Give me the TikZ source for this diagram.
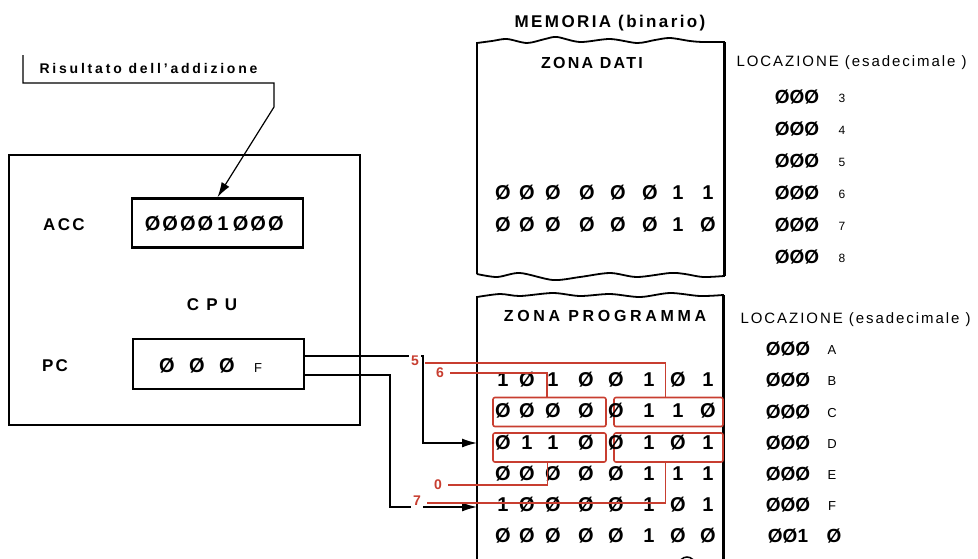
\documentclass[tikz,border=0pt]{standalone}
\usepackage{fontspec}
\setmainfont{Liberation Sans}
\usetikzlibrary{arrows.meta}
\definecolor{redline}{RGB}{200,62,48}

\begin{document}
\begin{tikzpicture}[x=1pt,y=-1pt,>={Latex[length=15pt,width=9pt]},
  box/.style={draw,line width=2.4pt},
  reg/.style={draw,line width=2.6pt,minimum width=171pt,minimum height=49pt},
  lbl/.style={font=\fontsize{17}{19}\selectfont\bfseries\addfontfeatures{LetterSpace=14}},
  zone/.style={font=\fontsize{16}{18}\selectfont\bfseries\addfontfeatures{LetterSpace=14}},
  loc/.style={font=\fontsize{15}{17}\selectfont\addfontfeatures{LetterSpace=13},anchor=west},
  bit/.style={font=\fontsize{20}{22}\selectfont\bfseries,inner sep=0pt},
  hx/.style={font=\fontsize{13}{15}\selectfont,inner sep=0pt},
  mem/.style={draw,line width=1.8pt},
  wire/.style={draw,line width=1.4pt},
  rl/.style={draw=redline,line width=1.2pt},
  rbox/.style={draw=redline,line width=1.6pt,rounded corners=2pt,minimum height=29pt},
  rn/.style={text=redline,fill=white,inner sep=2pt,font=\fontsize{14}{16}\selectfont\bfseries}]
  \useasboundingbox (0,0) rectangle (978,558);

  % CPU
  \node[box,minimum width=351pt,minimum height=270pt] (cpu) at (184.5,290) {};
  \node[lbl] (cpul) at (212,305) {C P U};
  \node[lbl] (accl) at (64,225) {ACC};
  \node[lbl] (pcl) at (55,366) {PC};
  \node[reg] (acc) at (217.5,223) {};
  \node[reg,line width=2.2pt,minimum height=50pt] (pc) at (218.5,364) {};
  \foreach \b [count=\c] in {Ø,Ø,Ø,Ø,1,Ø,Ø,Ø}
    \node[bit] (a\c) at (135+17.6*\c,224) {\b};
  \foreach \b [count=\c] in {Ø,Ø,Ø}
    \node[bit] (c\c) at (137+30*\c,366) {\b};
  \node[hx] (c4) at (258,368) {F};

  % result label
  \node[font=\fontsize{14}{16}\selectfont\bfseries\addfontfeatures{LetterSpace=20},anchor=west] (res) at (36,68) {Risultato dell'addizione};
  \coordinate (brk) at (23,55);
  \draw[wire,line width=1.2pt,->] (brk) |- (274,83) -- (274,107) -- (acc.north);

  % memory
  \node[lbl] (meml) at (610,23) {MEMORIA (binario)};
  \draw[mem] (477,274) -- (477,43) -- plot[smooth] coordinates {(477,43) (492,41) (507,39) (527,43) (545,39) (557,37) (580,42) (610,39) (637,43) (655,40) (670,38) (690,41) (703,42) (724,42)}
    -- (724,276) -- plot[smooth] coordinates {(724,276) (703,277) (685,274) (670,273) (637,277) (610,273) (580,277) (553,280) (520,273) (497,277) (477,274)};
  \draw[line width=3pt] (724,42) -- (724,276);
  \draw[mem] (477,565) -- (477,297) -- plot[smooth] coordinates {(477,297) (500,294) (520,296) (553,293) (580,296) (610,294) (640,297) (670,293) (700,296) (723,295)} -- (723,565);
  \draw[line width=3pt] (723,295) -- (723,565);
  \node[zone] (zd) at (592,63) {ZONA DATI};
  \node[zone,font=\fontsize{16}{18}\selectfont\bfseries\addfontfeatures{LetterSpace=23}] (zp) at (605,316) {ZONA PROGRAMMA};
  \node[loc] (loc1) at (733,63) {LOCAZIONE (esadecimale )};
  \node[loc] (loc2) at (737,320) {LOCAZIONE (esadecimale )};

  % data and program bytes
  \foreach \y/\bits [count=\r] in {193/{Ø,Ø,Ø,Ø,Ø,Ø,1,1},225/{Ø,Ø,Ø,Ø,Ø,Ø,1,Ø}}
    \foreach \b [count=\c] in \bits {
      \pgfmathsetmacro\xc{{503,527,553,587,618,650,678,708}[\c-1]}
      \node[bit] (d\r-\c) at (\xc,\y) {\b};
    }
  \node[rbox,minimum width=113pt] (lb2) at (549.5,412) {};
  \node[rbox,minimum width=113pt] (lb3) at (549.5,447.5) {};
  \node[rbox,minimum width=109pt] (rb2) at (668.5,412) {};
  \node[rbox,minimum width=109pt] (rb3) at (668.5,447.5) {};
  \foreach \y/\bits [count=\r] in {380/{1,Ø,1,Ø,Ø,1,Ø,1},411/{Ø,Ø,Ø,Ø,Ø,1,1,Ø},443/{Ø,1,1,Ø,Ø,1,Ø,1},
      474/{Ø,Ø,Ø,Ø,Ø,1,1,1},505/{1,Ø,Ø,Ø,Ø,1,Ø,1},536/{Ø,Ø,Ø,Ø,Ø,1,Ø,Ø}}
    \foreach \b [count=\c] in \bits {
      \pgfmathsetmacro\xc{{503,527,553,586,616,649,678,708}[\c-1]}
      \node[bit] (p\r-\c) at (\xc,\y) {\b};
    }
  \node[draw,circle,minimum size=16pt,line width=1.5pt] (mark) at (687,565) {};

  % locations
  \foreach \h [count=\i] in {3,4,5,6,7,8} {
    \node[bit,font=\fontsize{19}{21}\selectfont\bfseries] (t\i) at (797,65+32*\i) {ØØØ};
    \node[hx,font=\fontsize{12}{14}\selectfont] (th\i) at (842,66+32*\i) {\h};
  }
  \foreach \h [count=\i] in {A,B,C,D,E,F} {
    \node[bit,font=\fontsize{19}{21}\selectfont\bfseries] (b\i) at (788,318+31.2*\i) {ØØØ};
    \node[hx] (bh\i) at (832,319+31.2*\i) {\h};
  }
  \node[bit,font=\fontsize{19}{21}\selectfont\bfseries] (b7) at (788,536) {ØØ1};
  \node[bit,font=\fontsize{19}{21}\selectfont\bfseries] (bh7) at (834,536) {Ø};

  % PC to program zone
  \coordinate (m3) at (477,443);
  \coordinate (m7) at (477,507);
  \draw[wire,->] ([yshift=8pt]pc.east) -- ++(118,0) |- (m3);
  \draw[wire,->] ([yshift=-11pt]pc.east) -- ++(85,0) |- (m7);

  % address bytes
  \node[rn] (l5) at (415,361) {5};
  \node[rn] (l6) at (440,373) {6};
  \node[rn] (l0) at (438,485) {0};
  \node[rn] (l7) at (417,501) {7};
  \draw[rl] ([xshift=4pt,yshift=-2pt]l5.east) -| ([xshift=-3pt]rb2.north);
  \draw[rl] ([xshift=4pt]l6.east) -| ([xshift=-2.5pt]lb2.north);
  \draw[rl] ([xshift=4pt]l0.east) -| ([xshift=-2pt]lb3.south);
  \draw[rl] ([xshift=4pt,yshift=-2pt]l7.east) -| ([xshift=-3pt]rb3.south);
\end{tikzpicture}
\end{document}
